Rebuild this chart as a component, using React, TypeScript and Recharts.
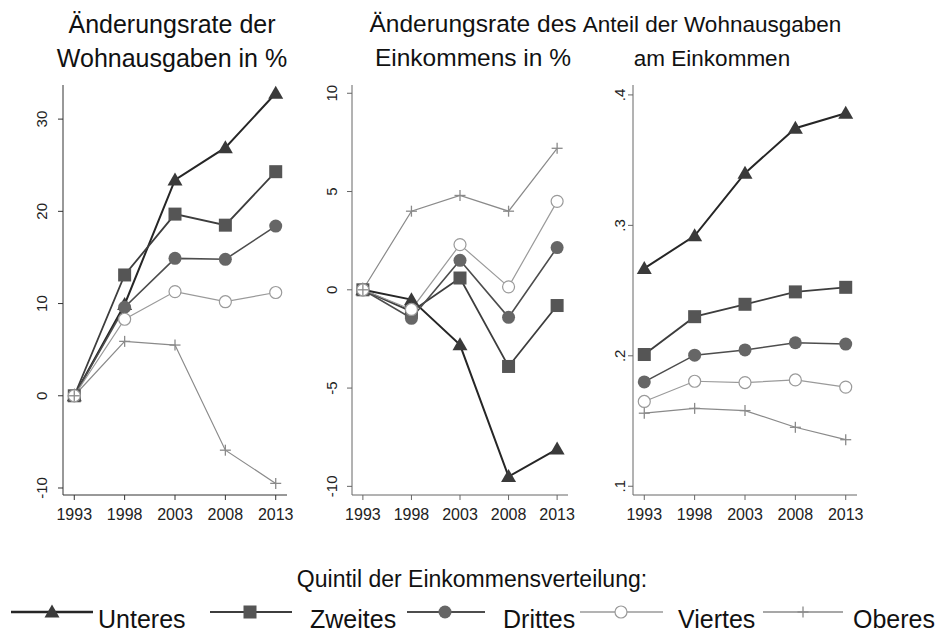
import React from "react";
import { LineChart, Line, XAxis, YAxis } from "recharts";

const years = [1993, 1998, 2003, 2008, 2013];
const quintileNames = ["Unteres", "Zweites", "Drittes", "Viertes", "Oberes"];
const keys = ["unteres", "zweites", "drittes", "viertes", "oberes"];

// Änderungsrate der Wohnausgaben in %
const housingUnteres = [0, 9.9, 23.4, 26.9, 32.8];
const housingZweites = [0, 13.1, 19.7, 18.5, 24.3];
const housingDrittes = [0, 9.6, 14.9, 14.8, 18.4];
const housingViertes = [0, 8.3, 11.3, 10.2, 11.2];
const housingOberes = [0, 5.9, 5.5, -5.9, -9.5];

// Änderungsrate des Einkommens in %
const incomeUnteres = [0, -0.5, -2.8, -9.5, -8.1];
const incomeZweites = [0, -1.1, 0.6, -3.9, -0.8];
const incomeDrittes = [0, -1.45, 1.5, -1.4, 2.15];
const incomeViertes = [0, -1.0, 2.3, 0.15, 4.5];
const incomeOberes = [0, 4.0, 4.8, 4.0, 7.2];

// Anteil der Wohnausgaben am Einkommen
const shareUnteres = [0.267, 0.292, 0.34, 0.3745, 0.386];
const shareZweites = [0.201, 0.23, 0.2395, 0.249, 0.2525];
const shareDrittes = [0.18, 0.2005, 0.2045, 0.21, 0.209];
const shareViertes = [0.165, 0.1805, 0.1795, 0.1815, 0.176];
const shareOberes = [0.156, 0.1597, 0.158, 0.1452, 0.1357];

const ticks1 = [-10, 0, 10, 20, 30];
const ticks2 = [-10, -5, 0, 5, 10];
const ticks3 = [0.1, 0.2, 0.3, 0.4];

const styles: Record<string, { shape: string; stroke: string; fill: string; width: number }> = {
  unteres: { shape: "triangle", stroke: "#262626", fill: "#3a3a3a", width: 2 },
  zweites: { shape: "square", stroke: "#3d3d3d", fill: "#555", width: 1.8 },
  drittes: { shape: "circle", stroke: "#4d4d4d", fill: "#666", width: 1.6 },
  viertes: { shape: "open", stroke: "#9a9a9a", fill: "#fff", width: 1.2 },
  oberes: { shape: "plus", stroke: "#8a8a8a", fill: "none", width: 1.2 },
};

const FONT = '"Liberation Sans", Arial, sans-serif';

function buildRows(series: number[][]) {
  return years.map((year, i) => {
    const row: Record<string, number> = { year };
    keys.forEach((k, j) => (row[k] = series[j][i]));
    return row;
  });
}

const rows1 = buildRows([housingUnteres, housingZweites, housingDrittes, housingViertes, housingOberes]);
const rows2 = buildRows([incomeUnteres, incomeZweites, incomeDrittes, incomeViertes, incomeOberes]);
const rows3 = buildRows([shareUnteres, shareZweites, shareDrittes, shareViertes, shareOberes]);

function Marker({ k, cx, cy }: { k: string; cx: number; cy: number }) {
  const s = styles[k];
  if (cx == null || cy == null) return null;
  switch (s.shape) {
    case "triangle":
      return <polygon points={`${cx},${cy - 7.5} ${cx - 7.5},${cy + 5.5} ${cx + 7.5},${cy + 5.5}`} fill={s.fill} />;
    case "square":
      return <rect x={cx - 6.5} y={cy - 6.5} width={13} height={13} fill={s.fill} />;
    case "circle":
      return <circle cx={cx} cy={cy} r={6.5} fill={s.fill} />;
    case "open":
      return <circle cx={cx} cy={cy} r={6} fill="#fff" stroke={s.stroke} strokeWidth={1.2} />;
    default:
      return (
        <g stroke={s.stroke} strokeWidth={1.3}>
          <line x1={cx - 5.5} y1={cy} x2={cx + 5.5} y2={cy} />
          <line x1={cx} y1={cy - 5.5} x2={cx} y2={cy + 5.5} />
        </g>
      );
  }
}

function YTick({ x, y, payload, shift, fmt }: any) {
  const bx = x - shift;
  return (
    <text
      x={bx}
      y={y}
      transform={`rotate(-90 ${bx} ${y})`}
      textAnchor="middle"
      fontSize={15}
      fontFamily={FONT}
      fill="#222"
    >
      {fmt(payload.value)}
    </text>
  );
}

function XTick({ x, y, payload }: any) {
  return (
    <text x={x} y={y + 18} textAnchor="middle" fontSize={16} fontFamily={FONT} fill="#222">
      {payload.value}
    </text>
  );
}

type PanelProps = {
  rows: Record<string, number>[];
  left: number;
  width: number;
  yWidth: number;
  rightMargin: number;
  domain: [number, number];
  yTicks: number[];
  shift: number;
  fmt: (v: number) => string;
  axisColor: string;
};

function Panel({ rows, left, width, yWidth, rightMargin, domain, yTicks, shift, fmt, axisColor }: PanelProps) {
  return (
    <div style={{ position: "absolute", left, top: 80 }}>
      <LineChart width={width} height={450} data={rows} margin={{ top: 5, right: rightMargin, left: 0, bottom: 5 }}>
        <XAxis
          dataKey="year"
          type="number"
          domain={[1991.88, 2014.12]}
          ticks={years}
          allowDataOverflow
          height={30}
          tickSize={5}
          tickMargin={2}
          axisLine={{ stroke: axisColor }}
          tickLine={{ stroke: axisColor }}
          tick={(p: any) => <XTick {...p} />}
        />
        <YAxis
          type="number"
          domain={domain}
          ticks={yTicks}
          allowDataOverflow
          width={yWidth}
          tickSize={5}
          tickMargin={2}
          axisLine={{ stroke: axisColor }}
          tickLine={{ stroke: axisColor }}
          tick={(p: any) => <YTick {...p} shift={shift} fmt={fmt} />}
        />
        {keys.map((k) => (
          <Line
            key={k}
            dataKey={k}
            type="linear"
            stroke={styles[k].stroke}
            strokeWidth={styles[k].width}
            isAnimationActive={false}
            dot={(p: any) => <Marker key={`${k}-${p.index}`} k={k} cx={p.cx} cy={p.cy} />}
            activeDot={false}
          />
        ))}
      </LineChart>
    </div>
  );
}

const titleStyle: React.CSSProperties = {
  position: "absolute",
  top: 7,
  width: 320,
  textAlign: "center",
  fontSize: 25,
  lineHeight: "34px",
  fontFamily: FONT,
  color: "#111",
};

const legendX = [
  { line: [11, 93], marker: 52, text: 98 },
  { line: [210, 292], marker: 250, text: 310 },
  { line: [407, 485], marker: 445, text: 503 },
  { line: [580, 663], marker: 621, text: 678 },
  { line: [763, 843], marker: 803, text: 853 },
];

export default function App() {
  return (
    <div style={{ position: "absolute", left: 0, top: 0, width: 941, height: 633, background: "#fff", overflow: "hidden" }}>
      <div style={{ ...titleStyle, left: 172 - 160 }}>
        Änderungsrate der
        <br />
        Wohnausgaben in %
      </div>
      <div style={{ ...titleStyle, left: 473 - 160, fontSize: 24.5 }}>
        Änderungsrate des
        <br />
        Einkommens in %
      </div>
      <div style={{ ...titleStyle, left: 712 - 160, fontSize: 22.5, top: 8 }}>
        Anteil der Wohnausgaben
        <br />
        am Einkommen
      </div>

      <Panel
        rows={rows1}
        left={0}
        width={300}
        yWidth={63}
        rightMargin={13}
        domain={[-10.76, 33.7]}
        yTicks={ticks1}
        shift={9}
        fmt={(v) => String(v)}
        axisColor="#333"
      />
      <Panel
        rows={rows2}
        left={300}
        width={280}
        yWidth={52}
        rightMargin={12}
        domain={[-10.44, 10.42]}
        yTicks={ticks2}
        shift={8}
        fmt={(v) => String(v)}
        axisColor="#666"
      />
      <Panel
        rows={rows3}
        left={590}
        width={281}
        yWidth={43}
        rightMargin={14}
        domain={[0.0933, 0.4076]}
        yTicks={ticks3}
        shift={1}
        fmt={(v) => v.toFixed(1).replace(/^0/, "")}
        axisColor="#666"
      />

      <div
        style={{
          position: "absolute",
          top: 562,
          left: 472 - 250,
          width: 500,
          textAlign: "center",
          fontSize: 23,
          lineHeight: "34px",
          fontFamily: FONT,
          color: "#111",
        }}
      >
        Quintil der Einkommensverteilung:
      </div>

      <svg style={{ position: "absolute", left: 0, top: 595 }} width={941} height={38}>
        {keys.map((k, i) => {
          const pos = legendX[i];
          return (
            <g key={k}>
              <line x1={pos.line[0]} y1={17} x2={pos.line[1]} y2={17} stroke={styles[k].stroke} strokeWidth={styles[k].width + 0.4} />
              <Marker k={k} cx={pos.marker} cy={17} />
              <text x={pos.text} y={33} fontSize={25} fontFamily={FONT} fill="#111">
                {quintileNames[i]}
              </text>
            </g>
          );
        })}
      </svg>
    </div>
  );
}
